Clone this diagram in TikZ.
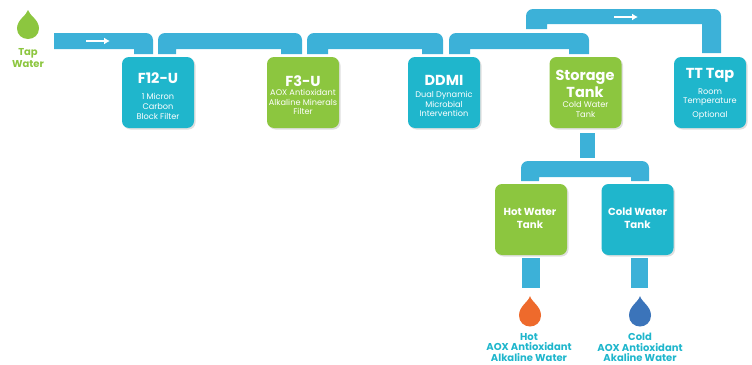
\documentclass[tikz,border=0pt]{standalone}
\usepackage{fontspec}
\setmainfont{Poppins}
\usetikzlibrary{shadows,arrows.meta,calc}
\definecolor{teal}{HTML}{1FB6CC}
\definecolor{leaf}{HTML}{8CC63F}
\definecolor{pipeblue}{HTML}{3CB1D8}
\definecolor{hotdrop}{HTML}{EE6A2C}
\definecolor{colddrop}{HTML}{3B74BA}
\tikzset{
  tank/.style={minimum width=72pt,minimum height=71pt,inner sep=0pt,rounded corners=7pt,
    drop shadow={shadow xshift=1.5pt,shadow yshift=-1.5pt,fill=black!45,opacity=.28}},
  tealtank/.style={tank,fill=teal},
  leaftank/.style={tank,fill=leaf},
  title/.style={text=white,font=\fontsize{14.5}{17}\selectfont\bfseries,inner sep=0pt,align=center},
  sub/.style={text=white,font=\fontsize{8.2}{9.6}\selectfont,inner sep=0pt,align=center},
  mid/.style={text=white,font=\fontsize{10.2}{13.5}\selectfont\bfseries,inner sep=0pt,align=center},
  pipe/.style={fill=pipeblue},
  flow/.style={draw=white,line width=1.2pt,-{Latex[length=6pt,width=7pt]}},
  caption/.style={font=\fontsize{10}{10.6}\selectfont\bfseries,inner sep=0pt,align=center},
}
% #1 left foot, #2 right foot, #3 top y, #4 lower y, #5 left foot width, #6 right foot width
\newcommand{\pipelink}[6]{%
  \fill[pipe] let \p1=(#1), \p2=(#2) in
    (\x1,\y1) -- (\x1,-#3pt-7pt) arc[start angle=180,end angle=90,radius=7pt]
    -- (\x2-7pt,-#3pt) arc[start angle=90,end angle=0,radius=7pt]
    -- (\x2,\y2) -- (\x2-#6pt,\y2) -- (\x2-#6pt,-#4pt) -- (\x1+#5pt,-#4pt) -- (\x1+#5pt,\y1) -- cycle;}
\newcommand{\waterdrop}[4]{%
  \fill[#4,shift={(#1,#2)},yscale=#3] (0,0) .. controls (1.5,6) and (11,10) .. (11,19.5)
    .. controls (11,26) and (6,30.5) .. (0,30.5) .. controls (-6,30.5) and (-11,26) .. (-11,19.5)
    .. controls (-11,10) and (-1.5,6) .. (0,0) -- cycle;}
\begin{document}
\begin{tikzpicture}[x=1pt,y=-1pt]
\useasboundingbox (0,0) rectangle (752,364);
\node[tealtank] (f12) at (158,92.5) {};
\node[leaftank] (f3) at (303,92.5) {};
\node[tealtank] (ddmi) at (444,92.5) {};
\node[leaftank] (storage) at (585.5,92.5) {};
\node[tealtank] (tt) at (710,92.5) {};
\node[leaftank] (hot) at (531,219.5) {};
\node[tealtank] (cold) at (637.5,219.5) {};
% text
\node[title] (t1) at (158,78) {F12-U};
\node[sub] (s1) at (158,106.5) {1 Micron\\Carbon\\Block Filter};
\node[title] (t2) at (303,81) {F3-U};
\node[sub] (s2) at (303,102) {AOX Antioxidant\\Alkaline Minerals\\Filter};
\node[title] (t3) at (444,80) {DDMI};
\node[sub] (s3) at (444,104) {Dual Dynamic\\Microbial\\Intervention};
\node[title] (t4) at (585,83.5) {Storage\\Tank};
\node[sub] (s4) at (585.5,109.5) {Cold Water\\Tank};
\node[title] (t5) at (710,75) {TT Tap};
\node[sub] (s5) at (710,104) {Room\\Temperature\\[4pt]Optional};
\node[mid] (t6) at (530,218.5) {Hot Water\\Tank};
\node[mid] (t7) at (637.5,218.5) {Cold Water\\Tank};
% pipe feet
\coordinate (tapstart) at (54,41);
\coordinate (f12in) at (153,54);
\coordinate (f12out) at (158,54);
\coordinate (f3in) at (302,54);
\coordinate (f3out) at (307,54);
\coordinate (ddmiin) at (443,54);
\coordinate (ddmiout) at (449,54);
\coordinate (storein) at (589,54);
\coordinate (storeout) at (526,29);
\coordinate (ttin) at (721,53);
\coordinate (splitl) at (521,181);
\coordinate (splitr) at (649,181);
% pipes
\fill[pipe] (tapstart |- 0,33) -- (146,33) arc[start angle=90,end angle=0,radius=7pt]
  -- (f12in) -- ++(-19pt,0) -- (134,49) -- (tapstart |- 0,49) -- cycle;
\pipelink{f12out}{f3in}{33}{49}{18}{21}
\pipelink{f3out}{ddmiin}{33}{49}{21}{21}
\pipelink{ddmiout}{storein}{33}{49}{21}{20}
\pipelink{storeout}{ttin}{9}{24}{21}{19}
\pipelink{splitl}{splitr}{161}{177}{18}{18}
\fill[pipe] ([xshift=-5.5pt,yshift=-4.5pt]storage.south) rectangle ([xshift=9.5pt,yshift=-29.5pt]storage.south);
\fill[pipe] ([xshift=-9pt,yshift=-3pt]hot.south) rectangle ([xshift=9pt,yshift=-33pt]hot.south);
\fill[pipe] ([xshift=-6.5pt,yshift=-3pt]cold.south) rectangle ([xshift=10.5pt,yshift=-33pt]cold.south);
% flow arrows
\coordinate (a1s) at (86,41); \coordinate (a1e) at (110,41);
\coordinate (a2s) at (614,17); \coordinate (a2e) at (638,17);
\draw[flow] (a1s) -- (a1e);
\draw[flow] (a2s) -- (a2e);
% drops
\waterdrop{28}{10}{0.95}{leaf}
\waterdrop{530}{296}{1}{hotdrop}
\waterdrop{640}{296}{1}{colddrop}
\node[caption,text=leaf] (tap) at (28,58) {Tap\\[1pt]Water};
\node[caption,text=teal] (c1) at (529,347.5) {Hot\\AOX Antioxidant\\Alkaline Water};
\node[caption,text=teal] (c2) at (640,347.5) {Cold\\AOX Antioxidant\\Akaline Water};
\end{tikzpicture}
\end{document}
